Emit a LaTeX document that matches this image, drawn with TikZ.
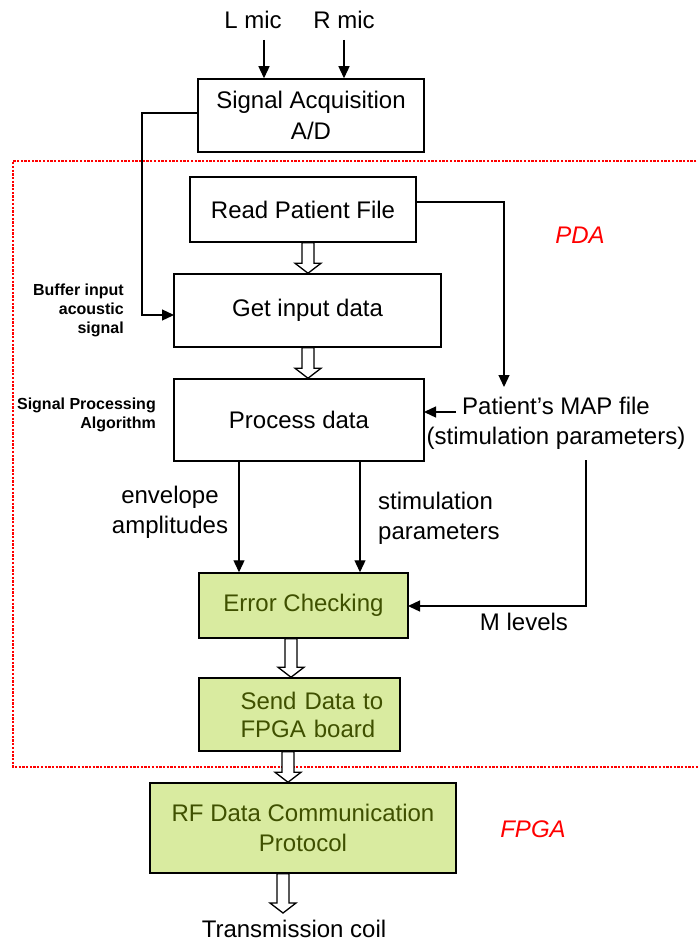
\documentclass[tikz,border=0pt]{standalone}
\usepackage{fontspec}
\setmainfont{Liberation Sans}
\usetikzlibrary{arrows.meta,calc}
\definecolor{boxgreen}{HTML}{D9EBA0}
\definecolor{olivetext}{HTML}{3F5000}
\newcommand\harrow[3]{%
  \draw[hollow] let \p1=(#2), \p2=(#3) in
    (#1pt-6pt,\y1) -- (#1pt-6pt,\y2+10pt) -- (#1pt-13pt,\y2+10pt) -- (#1pt,\y2)
    -- (#1pt+13pt,\y2+10pt) -- (#1pt+6pt,\y2+10pt) -- (#1pt+6pt,\y1) -- cycle;}
\tikzset{
  box/.style={draw, line width=1.5pt, inner sep=0pt, align=center,
    font=\fontsize{24}{30}\selectfont},
  gbox/.style={box, fill=boxgreen, text=olivetext},
  txt/.style={inner sep=0pt, align=center, font=\fontsize{24}{30}\selectfont},
  small/.style={inner sep=0pt, align=right, font=\fontsize{16}{19}\selectfont\bfseries},
  red label/.style={inner sep=0pt, text=red, font=\fontsize{24}{28}\selectfont\itshape},
  arr/.style={line width=1.3pt, -{Triangle[length=12pt,width=11pt]}},
  hollow/.style={draw, line width=1.3pt, fill=white},
  region/.style={draw=red, line width=2.8pt, dash pattern=on 2.3pt off 1.4pt}
}
\begin{document}
\begin{tikzpicture}[x=1pt,y=-1pt]
\useasboundingbox (0,0) rectangle (697,942);
% PDA region
\draw[region] (700,161) -- (13,161) -- (13,767) -- (700,767);
% boxes
\node[box, minimum width=226pt, minimum height=73pt, font=\fontsize{24}{31}\selectfont] (sa) at (311,115.5) {Signal Acquisition\\A/D};
\node[box, minimum width=226pt, minimum height=65pt] (rpf) at (303,209.5) {Read Patient File};
\node[box, minimum width=267pt, minimum height=73pt] (gid) at (307.5,310.5) {Get input data};
\node[box, minimum width=250pt, minimum height=82pt] (pd) at (299,420) {Process data};
\node[gbox, minimum width=209pt, minimum height=65pt] (ec) at (303.5,605.5) {Error Checking};
\node[gbox, minimum width=201pt, minimum height=73pt, text width=170pt, align=left, font=\fontsize{24}{28}\selectfont] (sd) at (299.5,714.5) {\hspace*{26pt}Send Data to\\\hspace*{26pt}FPGA board};
\node[gbox, minimum width=306pt, minimum height=90pt] (rf) at (303,828) {RF Data Communication\\Protocol};
% texts
\node[txt] (lmic) at (253,20) {L mic};
\node[txt] (rmic) at (344,20) {R mic};
\node[txt] (map) at (556,423) {Patient’s MAP file\\(stimulation parameters)};
\node[txt] (env) at (170,512) {envelope\\amplitudes};
\node[txt, anchor=west, align=left] (stim) at (378,518) {stimulation\\parameters};
\node[txt] (mlev) at (524,622) {M levels};
\node[txt] (coil) at (294,929) {Transmission coil};
\node[small, anchor=east] (buf) at (124,310) {Buffer input\\acoustic\\signal};
\node[small, anchor=east] (spa) at (156,415) {Signal Processing\\Algorithm};
\node[red label] (pda) at (580,235) {PDA};
\node[red label] (fpga) at (533,829) {FPGA};
% connectors
\coordinate (lm) at (264,40);
\coordinate (rm) at (344,40);
\draw[arr] (lm) -- (lm |- sa.north);
\draw[arr] (rm) -- (rm |- sa.north);
\coordinate (sa1) at (198,113);
\coordinate (sa2) at (142,113);
\coordinate (sa3) at (142,315);
\coordinate (gi1) at (174,315);
\draw[arr] (sa1) -- (sa2) -- (sa3) -- (gi1);
\coordinate (rp1) at (416,202);
\coordinate (rp2) at (504,202);
\coordinate (rp3) at (504,387);
\draw[arr] (rp1) -- (rp2) -- (rp3);
\coordinate (mp1) at (456,412);
\coordinate (mp2) at (424,412);
\draw[arr] (mp1) -- (mp2);
\coordinate (e1) at (239,461);
\coordinate (s1) at (360,461);
\draw[arr] (e1) -- (e1 |- ec.north);
\draw[arr] (s1) -- (s1 |- ec.north);
\coordinate (m1) at (586,460);
\coordinate (m2) at (586,606);
\coordinate (m3) at (408,606);
\draw[arr] (m1) -- (m2) -- (m3);
% hollow arrows
\harrow{308}{rpf.south}{gid.north}
\harrow{308}{gid.south}{pd.north}
\harrow{291}{ec.south}{sd.north}
\harrow{288}{sd.south}{rf.north}
\coordinate (coiltop) at (283,913);
\harrow{283}{rf.south}{coiltop}
\end{tikzpicture}
\end{document}
